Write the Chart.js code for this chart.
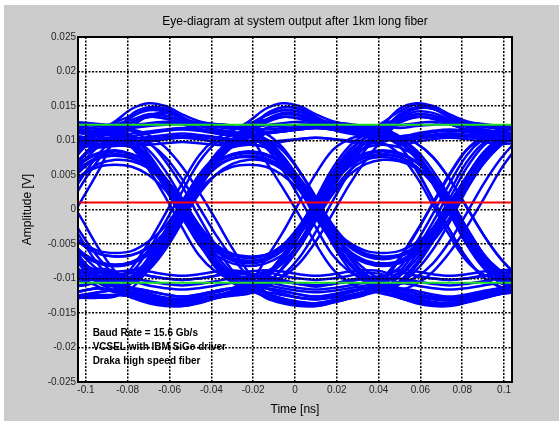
<!DOCTYPE html>
<html>
<head>
<meta charset="utf-8">
<title>Eye-diagram</title>
<script src="https://cdn.jsdelivr.net/npm/chart.js@4.4.1/dist/chart.umd.min.js"></script>
<style>
  html, body { margin: 0; padding: 0; background: #fff; }
  #fig { position: absolute; left: 4px; top: 5px; width: 555px; height: 416px; background: #cccccc; }
  #eyeChart { position: absolute; left: 0; top: 0; }
</style>
</head>
<body>
<div id="fig"></div>
<canvas id="eyeChart" width="559" height="421"></canvas>
<script>
// sample times [ns] shared by every trace
const timeNs = [-0.110, -0.102, -0.094, -0.086, -0.078, -0.070, -0.062, -0.054, -0.046, -0.038,
                -0.030, -0.022, -0.014, -0.006, 0.002, 0.010, 0.018, 0.026, 0.034, 0.042,
                0.050, 0.058, 0.066, 0.074, 0.082, 0.090, 0.098, 0.106];

// bit pattern of each trace in tracesA / tracesB (all 5-bit words)
const patterns = ['00000','00001','00010','00011','00100','00101','00110','00111',
                  '01000','01001','01010','01011','01100','01101','01110','01111',
                  '10000','10001','10010','10011','10100','10101','10110','10111',
                  '11000','11001','11010','11011','11100','11101','11110','11111'];
// bit pattern of each trace in tracesC
const patternsC = ['01010','10101','00110','11001','10011','01100','11100','00011',
                   '01001','10110','11011','00100','11110','00001','10000','01111'];

// amplitude of each trace [mV]
const tracesA = [
  [-12.3,-11.8,-11.4,-11.8,-10.6,-11.0,-11.4,-11.6,-11.4,-11.0,-10.6,-10.4,-11.4,-11.8,-12.3,-12.6,-12.3,-11.8,-11.4,-11.2,-12.0,-12.6,-13.0,-13.2,-12.9,-12.4,-12.0,-11.8],
  [-11.4,-11.0,-10.6,-11.0,-11.4,-11.8,-12.3,-12.6,-12.3,-11.8,-11.4,-11.6,-10.6,-11.0,-11.4,-11.6,-11.4,-11.0,-10.6,-10.8,-11.6,-10.8,-9.0,-6.2,-2.6,1.4,5.6,9.0],
  [-12.9,-12.4,-12.0,-11.6,-11.4,-11.8,-12.3,-12.6,-12.3,-11.8,-11.4,-11.0,-10.0,-7.4,-3.8,0.2,3.8,6.2,7.6,8.0,7.6,6.2,3.8,0.2,-3.8,-7.4,-10.0,-10.8],
  [-12.3,-11.8,-11.4,-11.9,-12.0,-12.6,-13.0,-13.2,-12.9,-12.4,-12.0,-11.4,-9.6,-6.6,-2.8,1.6,6.0,9.2,11.0,12.6,14.2,15.2,14.8,13.4,12.6,12.2,11.9,11.8],
  [-11.4,-11.0,-10.6,-11.2,-10.2,-7.8,-4.4,-0.6,2.8,5.0,6.2,6.5,6.2,5.0,2.8,-0.6,-4.4,-7.8,-10.2,-11.0,-12.6,-13.4,-13.8,-13.9,-13.4,-12.8,-12.2,-11.6],
  [-12.9,-12.4,-12.0,-11.5,-9.8,-7.0,-3.2,1.0,5.0,7.6,9.0,9.4,9.0,7.4,4.6,0.8,-3.2,-6.0,-7.4,-7.8,-7.4,-5.8,-3.0,0.8,4.8,8.2,10.4,11.2],
  [-12.3,-11.8,-11.4,-11.7,-10.6,-8.2,-5.0,-0.8,3.8,7.6,10.0,12.2,13.6,14.4,14.2,13.2,12.5,12.1,11.8,11.6,10.6,8.2,4.6,0.4,-4.0,-7.6,-10.0,-11.0],
  [-11.4,-11.0,-10.6,-11.0,-8.4,-4.8,-0.6,3.8,7.8,10.2,11.4,12.8,14.6,15.4,15.0,13.8,12.8,12.3,12.0,12.1,11.8,12.1,12.3,12.4,12.3,12.0,11.7,11.6],
  [3.8,6.2,7.6,8.0,7.6,6.2,3.8,0.2,-3.8,-7.4,-10.0,-11.0,-12.2,-12.9,-13.4,-13.6,-13.2,-12.6,-12.0,-11.6,-11.4,-11.8,-12.3,-12.6,-12.3,-11.8,-11.4,-11.2],
  [2.8,5.0,6.2,6.5,6.2,5.0,2.8,-0.6,-4.4,-7.8,-10.2,-11.2,-12.8,-13.6,-14.0,-14.0,-13.5,-12.9,-12.3,-10.0,-7.0,-3.2,0.8,5.0,8.6,10.6,11.6,11.8],
  [5.0,7.6,9.0,9.4,9.0,7.4,4.6,0.8,-3.2,-6.0,-7.4,-7.8,-7.4,-6.0,-3.4,0.4,3.8,6.4,7.6,7.9,7.6,6.2,3.8,0.2,-3.8,-7.4,-10.0,-11.0],
  [3.8,6.2,7.6,8.0,7.6,6.0,3.4,-0.4,-3.8,-6.0,-7.2,-7.5,-7.2,-5.6,-2.8,1.0,5.0,8.4,10.6,12.4,13.0,13.8,13.6,12.9,12.4,12.0,11.7,11.6],
  [-2.6,1.4,5.6,10.2,12.0,13.6,14.0,13.2,12.5,12.1,11.8,11.6,11.0,9.0,5.6,1.6,-3.0,-6.8,-9.6,-11.0,-12.6,-13.4,-13.8,-13.9,-13.4,-12.8,-12.2,-11.6],
  [6.0,9.2,11.0,12.6,13.6,14.4,14.2,13.2,12.5,12.1,11.8,11.4,10.0,7.4,3.8,-0.2,-3.8,-6.2,-7.6,-8.0,-7.6,-6.2,-3.8,-0.2,3.8,7.4,10.0,11.2],
  [7.8,10.2,11.4,12.8,14.6,15.4,15.0,13.8,12.8,12.3,12.0,12.0,11.2,11.5,11.8,12.0,11.9,11.6,11.3,11.2,10.0,7.4,3.6,-0.6,-5.0,-8.4,-10.6,-11.4],
  [3.8,7.6,10.0,12.2,13.0,13.8,13.6,12.9,12.4,12.0,11.7,11.8,12.2,12.5,12.7,12.8,12.6,12.4,12.1,12.0,10.6,11.0,11.4,11.6,11.4,11.0,10.7,10.8],
  [-4.0,-7.6,-10.0,-11.2,-12.6,-13.4,-13.8,-13.9,-13.4,-12.8,-12.2,-11.6,-11.4,-11.8,-12.3,-12.6,-12.3,-11.8,-11.4,-11.0,-10.6,-11.0,-11.4,-11.6,-11.4,-11.0,-10.6,-10.4],
  [2.6,-1.4,-5.6,-9.0,-11.6,-12.6,-13.2,-13.4,-13.0,-12.5,-12.0,-11.4,-9.8,-10.2,-10.8,-11.2,-10.8,-10.2,-9.8,-9.6,-8.4,-4.8,-0.6,3.8,7.8,10.2,11.4,12.0],
  [-5.0,-8.4,-10.6,-11.8,-12.8,-13.6,-14.0,-14.0,-13.5,-12.9,-12.3,-11.8,-9.8,-7.0,-3.2,1.0,5.0,7.6,9.0,9.4,9.0,7.6,5.0,1.0,-3.2,-7.0,-9.8,-11.0],
  [-7.0,-9.8,-11.2,-12.0,-12.6,-13.4,-13.8,-13.9,-13.4,-12.8,-12.2,-11.4,-11.2,-9.6,-7.0,-3.2,1.2,5.4,8.8,11.4,13.4,14.6,14.6,13.4,12.6,12.2,11.9,11.8],
  [-3.8,-6.2,-7.6,-8.0,-7.6,-6.0,-3.4,0.4,3.8,6.2,7.4,7.8,7.4,6.0,3.6,0.0,-4.0,-7.6,-10.0,-11.2,-12.2,-12.9,-13.4,-13.6,-13.2,-12.6,-12.0,-11.6],
  [-2.8,-4.8,-6.0,-6.3,-6.0,-4.6,-2.4,1.0,4.4,6.8,8.0,8.4,8.0,6.6,4.0,0.4,-3.4,-6.2,-7.6,-8.0,-7.6,-6.2,-3.8,-0.2,3.8,7.4,10.0,11.2],
  [-5.0,-7.6,-9.0,-9.4,-9.0,-7.6,-5.0,-1.0,3.2,7.0,9.8,12.2,13.6,14.4,14.2,13.2,12.5,12.1,11.8,11.4,9.2,5.8,1.4,-3.0,-7.0,-9.8,-11.2,-11.8],
  [-3.8,-6.2,-7.6,-8.0,-7.6,-6.2,-3.8,-0.2,3.8,7.4,10.0,12.4,13.0,13.8,13.6,12.9,12.4,12.0,11.7,11.6,10.0,10.2,10.5,10.7,10.5,10.2,9.9,10.0],
  [12.3,12.0,11.7,11.8,11.6,10.8,9.0,6.2,2.6,-1.4,-5.6,-9.2,-12.0,-13.2,-13.8,-14.0,-13.5,-12.9,-12.3,-11.8,-12.0,-12.6,-13.0,-13.2,-12.9,-12.4,-12.0,-11.6],
  [11.9,11.6,11.3,11.2,11.4,9.8,7.0,3.4,-1.0,-5.2,-8.8,-10.6,-12.2,-12.9,-13.4,-13.6,-13.2,-12.6,-12.0,-11.4,-9.6,-6.6,-2.8,1.6,6.0,9.2,11.0,11.8],
  [12.6,12.4,12.1,11.8,10.6,8.0,4.4,0.4,-3.2,-5.4,-6.6,-7.0,-6.6,-5.2,-2.8,0.6,4.0,6.4,7.6,8.0,7.6,6.2,3.8,0.2,-3.8,-7.4,-10.0,-11.0],
  [11.4,11.0,10.7,10.8,9.8,7.0,3.2,-1.0,-5.0,-7.6,-9.0,-9.4,-9.0,-7.6,-5.0,-1.0,3.2,7.0,9.8,12.2,14.6,15.4,15.0,13.8,12.8,12.3,12.0,12.0],
  [12.3,12.0,11.7,12.0,12.2,12.5,12.7,12.8,12.6,12.4,12.1,10.8,7.0,3.2,-0.8,-5.0,-8.6,-10.6,-11.6,-12.2,-12.8,-13.6,-14.0,-14.0,-13.5,-12.9,-12.3,-11.8],
  [10.5,10.2,9.9,10.0,10.6,11.0,11.4,11.6,11.4,11.0,10.7,11.0,10.2,7.8,4.4,0.6,-2.8,-4.8,-6.0,-6.3,-6.0,-4.8,-2.8,0.6,4.4,7.8,10.2,11.4],
  [11.9,11.6,11.3,11.4,11.8,12.1,12.3,12.4,12.3,12.0,11.7,11.6,11.2,11.5,11.8,12.0,11.9,11.6,11.3,11.0,9.2,5.8,1.4,-3.0,-7.0,-9.8,-11.2,-12.0],
  [12.6,12.4,12.1,12.2,10.0,10.2,10.5,10.7,10.5,10.2,9.9,10.4,11.8,12.1,12.3,12.4,12.3,12.0,11.7,12.0,12.2,12.5,12.7,12.8,12.6,12.4,12.1,12.0]
];

// second sweep: inner parts of the rails, wider timing spread [mV]
const tracesB = [
  [-9.6,-9.2,-9.0,-9.4,-9.2,-9.6,-10.0,-10.2,-10.0,-9.6,-9.2,-9.0,-8.8,-9.0,-9.4,-9.6,-9.4,-9.0,-8.8,-9.0,-10.0,-10.4,-10.8,-11.0,-10.8,-10.4,-10.0,-9.8],
  [-10.8,-10.4,-10.0,-10.2,-9.2,-9.6,-10.0,-10.2,-10.0,-9.6,-9.2,-9.4,-10.0,-10.4,-10.8,-11.0,-10.8,-10.4,-10.0,-10.2,-7.2,-3.4,1.0,5.2,8.6,10.2,10.9,11.2],
  [-9.4,-9.0,-8.8,-9.0,-8.8,-9.0,-9.4,-9.6,-9.4,-9.0,-8.8,-9.2,-10.4,-8.6,-5.6,-1.6,2.2,5.0,6.6,7.2,7.0,6.0,4.0,0.8,-2.8,-6.4,-9.2,-10.6],
  [-10.4,-10.0,-9.6,-9.8,-10.0,-10.4,-10.8,-11.0,-10.8,-10.4,-10.0,-10.2,-10.8,-9.8,-7.8,-4.6,-0.6,3.6,7.2,10.2,12.6,13.4,13.2,12.4,11.6,11.2,11.0,10.8],
  [-10.0,-9.6,-9.2,-9.6,-10.0,-7.0,-3.0,1.2,4.6,6.8,8.0,8.4,8.0,6.8,4.6,1.2,-3.0,-7.0,-9.6,-10.6,-11.4,-12.2,-12.8,-13.0,-12.6,-12.0,-11.4,-10.8],
  [-9.6,-9.2,-9.0,-9.4,-10.4,-8.6,-5.6,-1.6,2.2,5.0,6.6,7.2,7.0,5.8,3.6,0.4,-3.0,-5.4,-6.6,-7.0,-6.6,-5.2,-2.6,1.0,4.6,7.6,9.4,10.4],
  [-10.0,-9.6,-9.2,-9.6,-9.0,-5.8,-1.8,2.6,6.8,9.6,10.8,11.8,13.8,14.8,14.6,13.4,12.2,11.6,11.2,10.8,10.6,9.6,7.6,4.4,0.4,-3.6,-7.0,-9.6],
  [-9.2,-8.8,-8.6,-9.0,-10.6,-8.8,-5.8,-1.8,2.8,6.6,9.2,11.0,12.6,13.4,13.2,12.4,11.6,11.2,11.0,10.8,10.2,10.5,10.8,11.0,10.8,10.5,10.2,10.0],
  [4.6,6.8,8.0,8.4,8.0,6.8,4.6,1.2,-3.0,-7.0,-9.6,-10.6,-12.0,-13.0,-13.6,-13.8,-13.4,-12.6,-11.8,-11.0,-9.2,-9.6,-10.0,-10.2,-10.0,-9.6,-9.2,-9.0],
  [2.2,5.0,6.6,7.2,7.0,6.0,4.0,0.8,-2.8,-6.4,-9.2,-10.4,-11.4,-12.2,-12.8,-13.0,-12.6,-12.0,-11.4,-10.6,-9.0,-5.8,-1.8,2.6,6.8,9.6,10.8,11.2],
  [4.2,7.0,8.2,8.6,8.0,6.6,4.2,0.8,-2.8,-5.6,-7.0,-7.4,-7.0,-5.6,-3.0,0.6,4.2,7.0,8.2,8.6,8.2,7.0,4.8,1.4,-2.6,-6.4,-9.2,-10.4],
  [3.0,5.8,7.4,7.8,7.4,6.2,4.0,0.8,-2.6,-5.2,-6.6,-7.0,-6.6,-5.2,-2.4,1.4,5.4,8.6,10.4,11.6,13.8,14.8,14.6,13.4,12.2,11.6,11.2,11.0],
  [8.6,10.2,10.9,11.8,12.6,13.4,13.2,12.4,11.6,11.2,11.0,10.6,9.0,5.8,1.8,-2.6,-6.6,-9.0,-10.2,-11.0,-11.4,-12.2,-12.8,-13.0,-12.6,-12.0,-11.4,-10.6],
  [2.8,6.6,9.2,11.0,13.8,14.8,14.6,13.4,12.2,11.6,11.2,10.8,10.2,8.6,5.6,1.6,-2.2,-5.0,-6.4,-6.8,-6.6,-5.6,-3.6,-0.4,3.2,6.6,9.2,10.6],
  [6.8,9.6,10.8,11.8,12.6,13.4,13.2,12.4,11.6,11.2,11.0,10.8,9.4,9.8,10.2,10.4,10.2,9.8,9.5,9.6,8.0,4.8,0.6,-3.8,-7.4,-9.4,-10.2,-10.4],
  [-0.6,3.6,7.2,10.0,13.8,14.8,14.6,13.4,12.2,11.6,11.2,11.0,11.0,11.3,11.6,11.8,11.6,11.3,11.0,10.8,9.4,9.8,10.2,10.4,10.2,9.8,9.5,9.6],
  [-2.6,-6.4,-8.8,-10.4,-12.0,-13.0,-13.6,-13.8,-13.4,-12.6,-11.8,-11.0,-10.0,-10.4,-10.8,-11.0,-10.8,-10.4,-10.0,-9.8,-8.8,-9.0,-9.4,-9.6,-9.4,-9.0,-8.8,-8.8],
  [0.4,-3.6,-7.0,-9.6,-11.4,-12.2,-12.8,-13.0,-12.6,-12.0,-11.4,-10.6,-9.2,-9.6,-10.0,-10.2,-10.0,-9.6,-9.2,-9.4,-10.6,-8.8,-5.8,-1.8,2.8,6.6,9.2,11.0],
  [-6.6,-9.0,-10.2,-10.8,-11.4,-12.2,-12.8,-13.0,-12.6,-12.0,-11.4,-10.6,-10.0,-7.0,-3.0,1.2,4.6,6.8,8.0,8.4,8.0,6.8,4.6,1.2,-3.0,-7.0,-9.6,-10.8],
  [-8.2,-9.8,-10.4,-11.0,-12.0,-13.0,-13.6,-13.8,-13.4,-12.6,-11.8,-10.8,-7.2,-3.4,1.0,5.2,8.6,10.2,10.9,11.6,12.6,13.4,13.2,12.4,11.6,11.2,11.0,10.8],
  [-4.6,-6.6,-7.8,-8.2,-7.8,-6.4,-3.8,-0.2,3.4,6.0,7.4,7.8,7.4,6.2,4.0,0.8,-3.0,-6.8,-9.4,-10.6,-12.0,-13.0,-13.6,-13.8,-13.4,-12.6,-11.8,-11.0],
  [-2.2,-5.0,-6.4,-6.8,-6.6,-5.4,-3.2,0.2,3.8,6.6,7.8,8.2,7.8,6.6,4.4,1.0,-2.6,-5.4,-6.8,-7.2,-6.8,-5.6,-3.2,0.4,4.0,7.4,9.6,10.8],
  [-4.6,-6.6,-7.8,-8.2,-7.8,-6.6,-4.6,-1.2,3.0,6.8,9.6,11.4,12.6,13.4,13.2,12.4,11.6,11.2,11.0,10.6,10.2,8.6,5.6,1.8,-2.6,-6.4,-8.8,-10.2],
  [-2.2,-5.0,-6.4,-6.8,-6.6,-5.6,-3.6,-0.4,3.2,6.6,9.2,11.0,13.8,14.8,14.6,13.4,12.2,11.6,11.2,11.0,10.2,10.5,10.8,11.0,10.8,10.5,10.2,10.4],
  [11.6,11.3,11.0,10.8,9.0,5.8,1.8,-2.6,-6.6,-9.0,-10.2,-11.0,-11.4,-12.2,-12.8,-13.0,-12.6,-12.0,-11.4,-10.6,-9.2,-9.6,-10.0,-10.2,-10.0,-9.6,-9.2,-9.4],
  [10.8,10.5,10.2,10.4,10.6,9.6,7.6,4.4,0.4,-3.6,-7.0,-9.8,-12.0,-13.0,-13.6,-13.8,-13.4,-12.6,-11.8,-10.8,-10.8,-9.8,-7.8,-4.6,-0.6,3.6,7.2,10.0],
  [10.2,9.8,9.5,9.6,9.6,6.8,3.0,-1.2,-4.6,-6.6,-7.8,-8.2,-7.8,-6.6,-4.6,-1.2,2.6,5.6,7.2,7.6,7.2,6.0,3.8,0.6,-3.2,-6.8,-9.4,-10.6],
  [11.6,11.3,11.0,11.2,10.2,8.6,5.6,1.6,-2.2,-5.0,-6.4,-6.8,-6.6,-5.6,-3.6,-0.4,3.2,6.6,9.2,11.0,12.6,13.4,13.2,12.4,11.6,11.2,11.0,10.8],
  [10.8,10.5,10.2,10.4,11.0,11.3,11.6,11.8,11.6,11.3,11.0,10.8,10.2,8.6,5.6,1.8,-2.6,-6.4,-8.8,-10.4,-12.0,-13.0,-13.6,-13.8,-13.4,-12.6,-11.8,-11.0],
  [11.6,11.3,11.0,10.8,9.4,9.8,10.2,10.4,10.2,9.8,9.5,9.8,9.6,6.8,3.0,-1.2,-4.6,-6.6,-7.8,-8.2,-7.8,-6.6,-4.6,-1.2,3.0,6.8,9.6,10.8],
  [10.2,9.8,9.5,9.6,10.2,10.5,10.8,11.0,10.8,10.5,10.2,10.6,11.0,11.3,11.6,11.8,11.6,11.3,11.0,10.8,10.6,9.6,7.6,4.4,0.4,-3.6,-7.0,-9.6],
  [10.8,10.5,10.2,10.0,9.4,9.8,10.2,10.4,10.2,9.8,9.5,9.6,11.0,11.3,11.6,11.8,11.6,11.3,11.0,11.0,10.2,10.5,10.8,11.0,10.8,10.5,10.2,10.4]
];

// third sweep: mid-timing edges that fill the transition bundles [mV]
const tracesC = [
  [6.4,9.0,10.2,10.4,9.8,7.6,4.2,0.2,-4.2,-7.6,-9.6,-10.0,-9.4,-7.2,-3.8,0.4,4.6,8.0,9.8,10.2,9.6,7.4,4.0,0.0,-4.4,-7.8,-9.8,-10.4],
  [-4.6,-8.0,-9.8,-10.2,-9.6,-7.4,-4.0,0.2,4.4,7.8,9.6,10.0,9.4,7.2,3.8,-0.2,-4.6,-8.0,-9.8,-10.2,-9.6,-7.2,-3.8,0.4,4.6,8.0,9.8,10.4],
  [-10.4,-10.0,-9.8,-10.0,-10.2,-7.8,-4.4,-0.2,4.4,8.0,10.2,11.6,13.0,14.0,13.8,12.8,11.8,11.2,10.8,10.6,9.8,7.6,4.2,0.0,-4.4,-8.0,-10.2,-11.4],
  [9.6,9.4,9.2,9.4,9.2,7.0,3.6,-0.4,-4.8,-8.4,-10.6,-11.6,-12.6,-13.2,-13.6,-13.6,-13.2,-12.6,-12.0,-11.6,-10.8,-8.2,-4.6,-0.2,4.2,7.8,10.0,10.8],
  [-3.4,-7.2,-9.6,-11.2,-12.4,-13.0,-13.4,-13.5,-13.1,-12.5,-11.9,-11.2,-9.8,-7.0,-3.4,0.8,5.2,8.6,10.4,11.8,13.2,14.2,14.0,13.0,12.0,11.4,11.0,10.8],
  [5.4,8.6,10.4,11.8,13.4,14.6,14.4,13.2,12.2,11.6,11.2,10.8,10.0,7.8,4.4,0.2,-4.2,-7.8,-10.0,-11.4,-12.4,-13.2,-13.6,-13.6,-13.2,-12.6,-12.0,-11.6],
  [9.8,9.6,9.4,9.6,9.2,9.4,9.6,9.8,9.6,9.4,9.2,9.4,9.0,6.8,3.4,-0.6,-5.0,-8.6,-10.6,-11.8,-12.8,-13.4,-13.8,-13.8,-13.4,-12.8,-12.2,-12.0],
  [-12.8,-12.6,-12.4,-12.4,-12.6,-12.9,-13.2,-13.3,-13.1,-12.8,-12.5,-12.2,-11.0,-8.4,-4.8,-0.4,4.0,7.6,9.8,11.4,13.6,14.8,14.6,13.4,12.2,11.6,11.2,11.0],
  [4.2,7.4,9.4,9.8,9.6,7.4,3.8,-0.4,-4.6,-8.2,-10.4,-11.6,-12.6,-13.4,-13.8,-13.8,-13.4,-12.8,-12.2,-11.6,-10.4,-7.8,-4.2,0.0,4.6,8.2,10.2,11.2],
  [-4.4,-7.8,-9.8,-10.4,-10.0,-7.6,-4.2,0.0,4.4,7.8,9.8,11.2,12.8,13.8,13.6,12.6,11.6,11.0,10.6,10.4,9.8,7.8,4.6,0.6,-3.8,-7.4,-9.8,-11.0],
  [9.4,9.2,9.0,9.2,9.0,6.6,3.2,-0.8,-5.0,-7.8,-9.4,-9.8,-9.4,-7.8,-4.8,-0.8,3.6,7.4,9.8,11.2,12.8,13.8,13.6,12.6,11.6,11.0,10.6,10.4],
  [-12.6,-12.8,-12.8,-12.6,-11.4,-8.6,-5.0,-0.8,3.4,6.2,7.4,7.6,7.2,5.8,3.4,-0.2,-4.2,-7.8,-10.4,-11.8,-12.8,-13.4,-13.8,-13.8,-13.4,-12.8,-12.2,-12.0],
  [12.8,12.6,12.4,12.2,12.0,12.2,12.4,12.6,12.5,12.3,12.0,11.8,11.6,11.8,12.0,12.2,12.0,11.8,11.5,11.4,10.4,8.2,4.8,0.8,-3.6,-7.2,-9.8,-11.2],
  [-13.0,-12.8,-12.6,-12.4,-12.2,-12.6,-13.0,-13.2,-13.0,-12.6,-12.2,-12.0,-12.0,-12.4,-12.8,-13.0,-12.8,-12.4,-12.0,-11.8,-10.8,-8.0,-4.4,0.0,4.4,8.0,10.2,11.4],
  [-0.2,-4.4,-8.0,-10.4,-12.2,-13.2,-13.8,-14.0,-13.6,-12.8,-12.0,-11.4,-11.0,-11.4,-11.8,-12.0,-11.8,-11.4,-11.0,-10.8,-11.6,-12.2,-12.6,-12.8,-12.6,-12.2,-11.8,-11.6],
  [0.6,4.6,8.0,10.6,12.6,13.6,13.6,12.8,11.8,11.2,10.8,10.6,9.8,10.0,10.2,10.4,10.2,10.0,9.8,9.8,10.6,10.8,11.2,11.4,11.2,10.8,10.6,10.6]
];

// decision levels [V]
const upperLevel = 0.0123;
const lowerLevel = -0.0106;
const thresholdLevel = 0.001;

// axes
const xRange = [-0.1038, 0.1038];
const yRange = [-0.025, 0.025];
const xTicks = [-0.1, -0.08, -0.06, -0.04, -0.02, 0, 0.02, 0.04, 0.06, 0.08, 0.1];
const xTickLabels = ['-0.1', '-0.08', '-0.06', '-0.04', '-0.02', '0', '0.02', '0.04', '0.06', '0.08', '0.1'];
const yTicks = [-0.025, -0.02, -0.015, -0.01, -0.005, 0, 0.005, 0.01, 0.015, 0.02, 0.025];
const yTickLabels = ['-0.025', '-0.02', '-0.015', '-0.01', '-0.005', '0', '0.005', '0.01', '0.015', '0.02', '0.025'];

const titleText = 'Eye-diagram at system output after 1km long fiber';
const infoLines = ['Baud Rate = 15.6 Gb/s', 'VCSEL with IBM SiGe driver', 'Draka high speed fiber'];

const FONT = '"Liberation Sans", Arial, Helvetica, sans-serif';

function traceSet(t, label) {
    return {
        label: label,
        data: t.map((v, i) => ({ x: timeNs[i], y: v / 1000 })),
        borderColor: '#0000ff',
        borderWidth: 2.5,
        pointRadius: 0,
        tension: 0.35,
        fill: false,
        clip: 0,
        order: 1
    };
}

function levelLine(level, color) {
    return {
        label: 'level',
        data: [{ x: xRange[0], y: level }, { x: xRange[1], y: level }],
        borderColor: color,
        borderWidth: 2,
        pointRadius: 0,
        fill: false,
        clip: 0,
        order: 0   // drawn over the traces
    };
}

// white plot area, black frame, title and the info text
const frameAndText = {
    id: 'frameAndText',
    beforeDraw(chart) {
        const { ctx, chartArea: a } = chart;
        ctx.save();
        ctx.fillStyle = '#ffffff';
        ctx.fillRect(a.left, a.top, a.right - a.left, a.bottom - a.top);
        ctx.restore();
    },
    afterDraw(chart) {
        const { ctx, chartArea: a, scales } = chart;
        ctx.save();
        ctx.strokeStyle = '#000';
        ctx.lineWidth = 2;
        ctx.strokeRect(a.left, a.top, a.right - a.left, a.bottom - a.top);

        ctx.fillStyle = '#000';
        ctx.font = '12px ' + FONT;
        ctx.textAlign = 'center';
        ctx.textBaseline = 'middle';
        ctx.fillText(titleText, (a.left + a.right) / 2, a.top - 15.5);

        ctx.font = 'bold 10px ' + FONT;
        ctx.textAlign = 'left';
        const x0 = scales.x.getPixelForValue(-0.0968);
        const y0 = scales.y.getPixelForValue(-0.0179);
        infoLines.forEach((s, i) => ctx.fillText(s, x0, y0 + i * 14));
        ctx.restore();
    }
};

const traceSets = []
    .concat(tracesA.map((t, i) => traceSet(t, patterns[i])))
    .concat(tracesB.map((t, i) => traceSet(t, patterns[i])))
    .concat(tracesC.map((t, i) => traceSet(t, patternsC[i])));

new Chart(document.getElementById('eyeChart'), {
    type: 'line',
    data: {
        datasets: traceSets.concat([
            levelLine(upperLevel, '#1ee01e'),
            levelLine(lowerLevel, '#1ee01e'),
            levelLine(thresholdLevel, '#ff0000')
        ])
    },
    options: {
        responsive: false,
        animation: false,
        events: [],
        layout: { padding: { top: 37, right: 47, bottom: 0, left: 0 } },
        plugins: { legend: { display: false }, tooltip: { enabled: false }, title: { display: false } },
        scales: {
            x: {
                type: 'linear',
                min: xRange[0],
                max: xRange[1],
                afterBuildTicks: axis => { axis.ticks = xTicks.map(v => ({ value: v })); },
                afterFit: axis => { axis.height = 39; },
                ticks: {
                    padding: 2,
                    color: '#262626',
                    font: { family: FONT, size: 10 },
                    maxRotation: 0,
                    autoSkip: false,
                    callback: (v, i) => xTickLabels[i]
                },
                grid: { color: '#000', lineWidth: 1.5, drawTicks: false, z: 1 },
                border: { display: false, dash: [2, 1.5] },
                title: { display: true, text: 'Time [ns]', color: '#000', font: { family: FONT, size: 12 }, padding: { top: 4, bottom: 4 } }
            },
            y: {
                min: yRange[0],
                max: yRange[1],
                afterBuildTicks: axis => { axis.ticks = yTicks.map(v => ({ value: v })); },
                afterFit: axis => { axis.width = 78; },
                ticks: {
                    padding: 2,
                    color: '#262626',
                    font: { family: FONT, size: 10 },
                    autoSkip: false,
                    callback: (v, i) => yTickLabels[i]
                },
                grid: { color: '#000', lineWidth: 1.5, drawTicks: false, z: 1 },
                border: { display: false, dash: [2, 1.5] },
                title: { display: true, text: 'Amplitude [V]', color: '#000', font: { family: FONT, size: 12 }, padding: { top: 20, bottom: 0 } }
            }
        }
    },
    plugins: [frameAndText]
});
</script>
</body>
</html>
